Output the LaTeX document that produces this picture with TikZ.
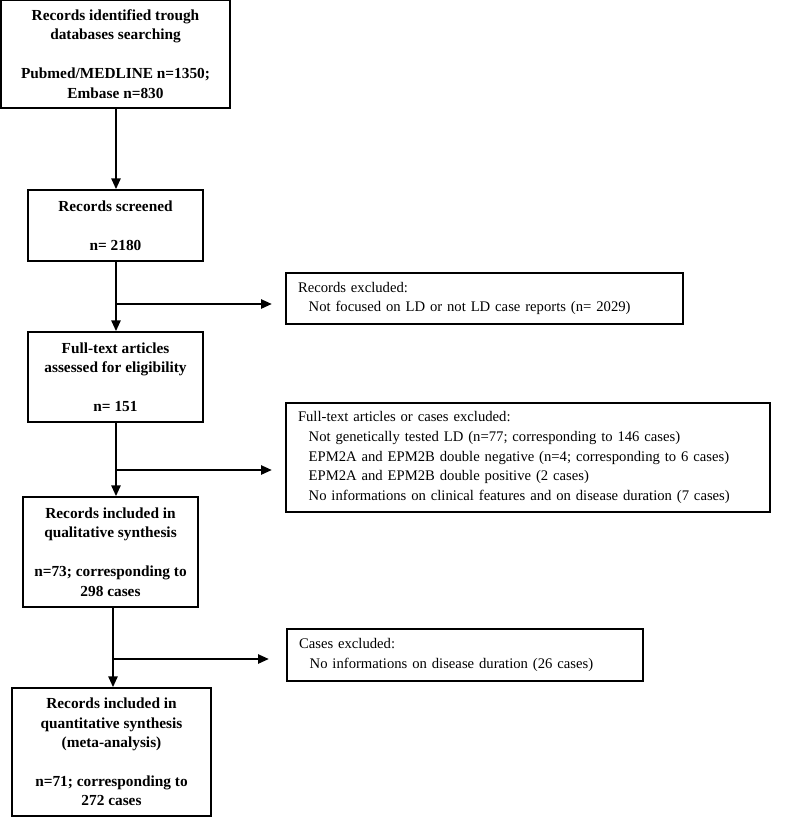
\documentclass[tikz,border=0pt]{standalone}
\usepackage{fontspec}
\setmainfont{Liberation Serif}
\usetikzlibrary{arrows.meta}

\tikzset{
  stage/.style={draw, line width=1.4pt, align=center, inner sep=2pt,
    font=\fontsize{11.5}{14.6}\selectfont\bfseries},
  excluded/.style={draw, line width=1.4pt, align=left, inner xsep=9pt,
    font=\fontsize{11}{14.8}\selectfont},
  flow/.style={line width=1.1pt, -{Triangle[length=8pt,width=7pt]}}
}

\begin{document}
\begin{tikzpicture}[x=0.75pt, y=-0.75pt]
	\useasboundingbox (0,0) rectangle (797,818);

	\node[stage, minimum width=171.75pt, minimum height=81pt] (ident) at (115.5,54)
		{Records identified trough\\ databases searching\\[14.6pt] Pubmed/MEDLINE n=1350;\\ Embase n=830};
	\node[stage, minimum width=131.25pt, minimum height=53.25pt] (screen) at (115.5,225.5)
		{Records screened\\[14.6pt] n= 2180};
	\node[stage, minimum width=131.25pt, minimum height=67.5pt] (full) at (115.5,377)
		{Full-text articles\\ assessed for eligibility\\[14.6pt] n= 151};
	\node[stage, minimum width=131.25pt, minimum height=82.5pt] (qual) at (110.5,552)
		{Records included in\\ qualitative synthesis\\[14.6pt] n=73; corresponding to\\ 298 cases};
	\node[stage, minimum width=149.25pt, minimum height=96pt] (meta) at (111.5,752)
		{Records included in\\ quantitative synthesis\\ (meta-analysis)\\[14.6pt] n=71; corresponding to\\ 272 cases};

	\node[excluded, text width=279.75pt, minimum height=38.25pt] (exclA) at (484.5,298.5)
		{Records excluded:\\ \hspace*{8pt}Not focused on LD or not LD case reports (n= 2029)};
	\node[excluded, text width=345pt, minimum height=81.75pt] (exclB) at (528,457.5)
		{Full-text articles or cases excluded:\\
		 \hspace*{8pt}Not genetically tested LD (n=77; corresponding to 146 cases)\\
		 \hspace*{8pt}EPM2A and EPM2B double negative (n=4; corresponding to 6 cases)\\
		 \hspace*{8pt}EPM2A and EPM2B double positive (2 cases)\\
		 \hspace*{8pt}No informations on clinical features and on disease duration (7 cases)};
	\node[excluded, text width=249pt, minimum height=39pt] (exclC) at (465,655)
		{Cases excluded:\\ \hspace*{8pt}No informations on disease duration (26 cases)};

	\coordinate (splitA) at (116,304);
	\coordinate (splitB) at (116,470);
	\coordinate (splitC) at (113,659);

	\draw[flow] (ident.south -| splitA) -- (screen.north -| splitA);
	\draw[flow] (screen.south -| splitA) -- (full.north -| splitA);
	\draw[flow] (full.south -| splitB) -- (qual.north -| splitB);
	\draw[flow] (qual.south -| splitC) -- (meta.north -| splitC);

	\draw[flow, shorten >=10pt] (splitA) -- (splitA -| exclA.west);
	\draw[flow, shorten >=10pt] (splitB) -- (splitB -| exclB.west);
	\draw[flow, shorten >=13pt] (splitC) -- (splitC -| exclC.west);
\end{tikzpicture}
\end{document}
